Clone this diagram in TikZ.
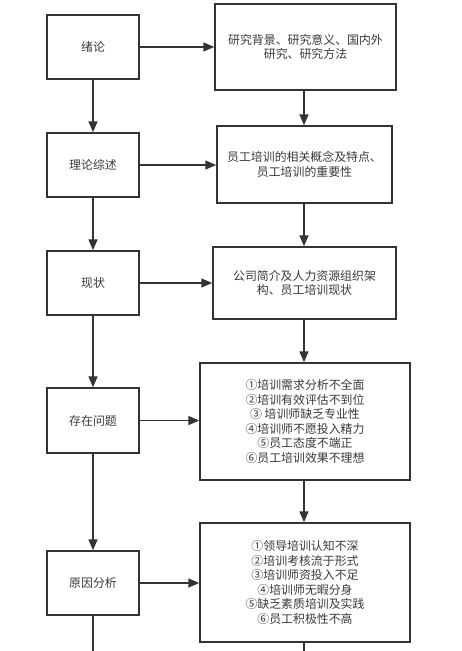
\documentclass[tikz,border=0pt]{standalone}
\usepackage{fontspec}
\setmainfont{Noto Sans CJK SC}
\usetikzlibrary{arrows.meta}
\definecolor{ln}{HTML}{333333}
\definecolor{tx}{HTML}{3A3A3A}
\begin{document}
\begin{tikzpicture}[x=1pt,y=-1pt,
  box/.style={draw=ln,line width=1.4pt,fill=white,text=tx,align=center,inner sep=0pt,font=\fontsize{11.9}{14.6}\selectfont},
  arr/.style={draw=ln,line width=1.4pt,-{Triangle[length=11pt,width=9pt]}},
  ln/.style={draw=ln,line width=1.4pt}]
\useasboundingbox (0,0) rectangle (461,651);
\node[box,minimum width=92pt,minimum height=64pt] (L1) at (93,47) {绪论};
\node[box,minimum width=92pt,minimum height=64pt] (L2) at (93,165) {理论综述};
\node[box,minimum width=92pt,minimum height=64pt] (L3) at (93,283) {现状};
\node[box,minimum width=92pt,minimum height=65pt] (L4) at (93,420.5) {存在问题};
\node[box,minimum width=92pt,minimum height=64pt] (L5) at (93,583) {原因分析};
\node[box,minimum width=181pt,minimum height=86pt] (R1) at (305.5,47) {研究背景、研究意义、国内外\\研究、研究方法};
\node[box,minimum width=175pt,minimum height=77pt] (R2) at (304.5,164.5) {员工培训的相关概念及特点、\\员工培训的重要性};
\node[box,minimum width=183pt,minimum height=72pt] (R3) at (304.5,283) {公司简介及人力资源组织架\\构、员工培训现状};
\node[box,minimum width=210pt,minimum height=117pt] (R4) at (305,421.5) {①培训需求分析不全面\\②培训有效评估不到位\\③ 培训师缺乏专业性\\④培训师不愿投入精力\\⑤员工态度不端正\\⑥员工培训效果不理想};
\node[box,minimum width=210pt,minimum height=119pt] (R5) at (305,582.5) {①领导培训认知不深\\②培训考核流于形式\\③培训师资投入不足\\④培训师无暇分身\\⑤缺乏素质培训及实践\\⑥员工积极性不高};
\coordinate (LE) at (93,651);
\coordinate (RE) at (304,651);
\draw[arr] (L1) -- (L2);
\draw[arr] (L2) -- (L3);
\draw[arr] (L3) -- (L4);
\draw[arr] (L4) -- (L5);
\draw[ln] (L5) -- (LE);
\draw[arr] (L1) -- (R1);
\draw[arr] (L2) -- (L2 -| R2.west);
\draw[arr] (L3) -- (L3 -| R3.west);
\draw[arr] (L4.east) -- (L4.east -| R4.west);
\draw[arr] (L5) -- (L5 -| R5.west);
\draw[arr] (R1.south -| 304,0) -- (R2.north -| 304,0);
\draw[arr] (R2.south -| 304,0) -- (R3.north -| 304,0);
\draw[arr] (R3.south -| 304,0) -- (R4.north -| 304,0);
\draw[arr] (R4.south -| 304,0) -- (R5.north -| 304,0);
\draw[ln] (R5.south -| RE) -- (RE);
\end{tikzpicture}
\end{document}
